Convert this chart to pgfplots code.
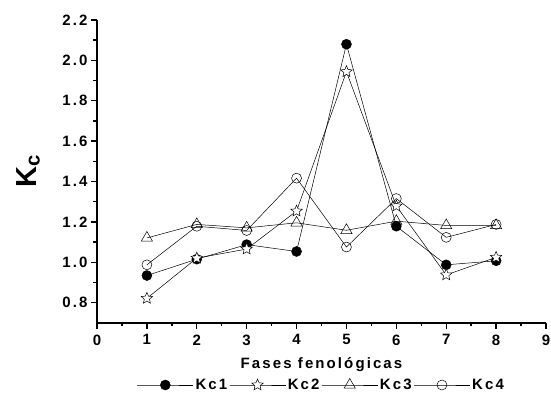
\documentclass[border=0pt]{standalone}
\usepackage{fontspec}
\setmainfont{Liberation Sans}
\newfontfamily\wide[LetterSpace=14]{Liberation Sans}
\usepackage{pgfplots}
\pgfplotsset{compat=1.18}
% open five-pointed star
\pgfdeclareplotmark{ostar}{%
  \pgfpathmoveto{\pgfpointpolar{90}{\pgfplotmarksize}}%
  \foreach \a in {1,...,9}{%
    \ifodd\a
      \pgfpathlineto{\pgfpointpolar{90+36*\a}{0.45\pgfplotmarksize}}%
    \else
      \pgfpathlineto{\pgfpointpolar{90+36*\a}{\pgfplotmarksize}}%
    \fi}%
  \pgfpathclose
  \pgfusepathqfillstroke}
\begin{document}
\begin{tikzpicture}
\path[use as bounding box] (-97pt,-83pt) rectangle (454pt,323pt);
\begin{axis}[
  at={(0,0)}, anchor=south west,
  scale only axis, width=449pt, height=303pt,
  xmin=0, xmax=9, ymin=0.7, ymax=2.2,
  axis lines*=left,
  axis line style={line width=1.6pt},
  xtick={0,1,...,9}, ytick={0.8,1.0,...,2.2},
  minor x tick num=1, minor y tick num=1,
  tick style={line width=1.4pt, black},
  major tick length=6pt, minor tick length=3.5pt,
  tick align=outside,
  /pgf/number format/assume math mode=true,
  yticklabel style={/pgf/number format/.cd, fixed, fixed zerofill, precision=1},
  ticklabel style={font=\wide\fontsize{15}{17}\selectfont\bfseries},
  xticklabel style={yshift=-2pt},
  xlabel={Fases fenológicas},
  xlabel style={font=\wide\fontsize{15}{17}\selectfont\bfseries, at={(0.5,0)}, anchor=center, yshift=-42pt},
  ylabel={K\textsubscript{c}},
  every axis y label/.style={at={(0,0.5)}, xshift=-69pt, rotate=90, anchor=center,
    font=\fontsize{29}{31}\selectfont\bfseries},
  legend columns=4,
  legend style={draw=none, fill=none, at={(0.5,0)}, anchor=center, yshift=-62pt,
    font=\wide\fontsize{15}{17}\selectfont\bfseries, column sep=0pt, inner xsep=1pt,
    /tikz/every even column/.append style={column sep=0pt}},
  legend image code/.code={\draw[mark repeat=2, mark phase=2, #1] plot coordinates {(0pt,0pt) (28pt,0pt) (56pt,0pt)};},
  every axis plot/.append style={black, line width=0.5pt, mark size=5pt, mark options={solid, line width=0.6pt}},
]
\addplot[mark=*, mark options={fill=black}] coordinates {
 (1,0.935) (2,1.016) (3,1.088) (4,1.054) (5,2.08) (6,1.179) (7,0.988) (8,1.008)};
\addlegendentry{Kc1}
\addplot[mark=ostar, mark size=6pt, mark options={fill=white}] coordinates {
 (1,0.822) (2,1.021) (3,1.066) (4,1.254) (5,1.944) (6,1.279) (7,0.938) (8,1.025)};
\addlegendentry{Kc2}
\addplot[mark=triangle, mark size=6.5pt, mark options={fill=white}] coordinates {
 (1,1.121) (2,1.188) (3,1.171) (4,1.196) (5,1.159) (6,1.204) (7,1.183) (8,1.183)};
\addlegendentry{Kc3}
\addplot[mark=o, mark options={fill=white}] coordinates {
 (1,0.988) (2,1.179) (3,1.158) (4,1.417) (5,1.076) (6,1.316) (7,1.124) (8,1.188)};
\addlegendentry{Kc4}
\end{axis}
\end{tikzpicture}
\end{document}
